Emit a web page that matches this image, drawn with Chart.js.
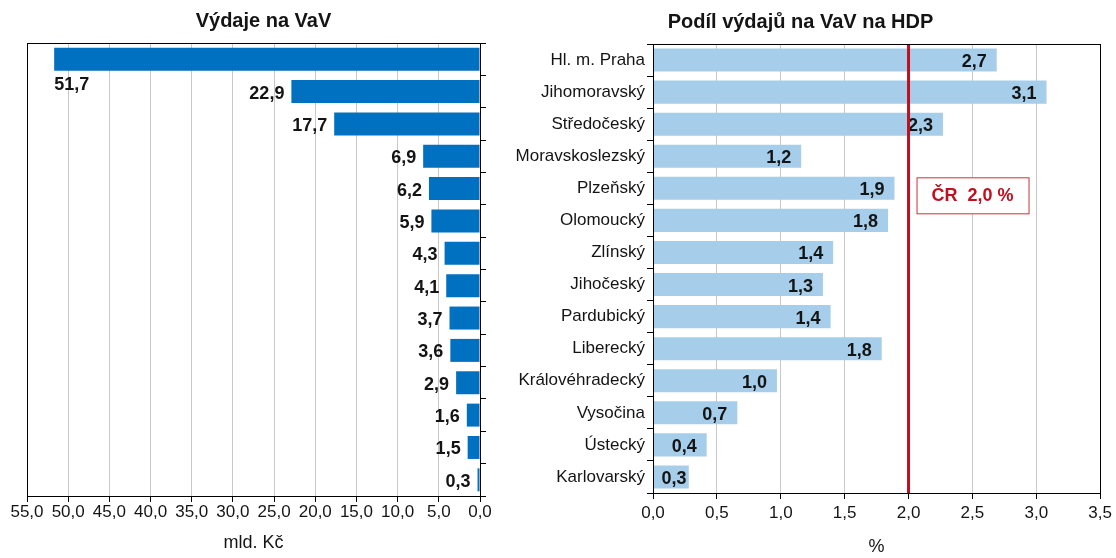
<!DOCTYPE html>
<html>
<head>
<meta charset="utf-8">
<script src="https://cdn.jsdelivr.net/npm/chart.js@4/dist/chart.umd.min.js"></script>
<style>
  body { margin: 0; background: #fff; }
  #wrap { position: relative; width: 1116px; height: 558px; }
  #left { position: absolute; left: 0; top: 0; }
  #right { position: absolute; left: 500px; top: 0; }
</style>
</head>
<body>
<div id="wrap">
  <canvas id="left" width="500" height="558"></canvas>
  <canvas id="right" width="616" height="558"></canvas>
</div>
<script>
// regions, same order in both panels
var regions = ["Hl. m. Praha", "Jihomoravský", "Středočeský", "Moravskoslezský", "Plzeňský",
  "Olomoucký", "Zlínský", "Jihočeský", "Pardubický", "Liberecký", "Královéhradecký",
  "Vysočina", "Ústecký", "Karlovarský"];
// výdaje na VaV, mld. Kč
var spending = [51.7, 22.9, 17.7, 6.9, 6.2, 5.9, 4.3, 4.1, 3.7, 3.6, 2.9, 1.6, 1.5, 0.3];
// podíl na HDP, %
var share = [2.69, 3.08, 2.27, 1.16, 1.89, 1.84, 1.41, 1.33, 1.39, 1.79, 0.97, 0.66, 0.42, 0.28];
var crShare = 2.0;
var crLabel = "ČR  2,0 %";

var FONT = "'Liberation Sans', Arial, sans-serif";
var INK = "#141414";
function fmt(v) { return v.toFixed(1).replace(".", ","); }

// frame round the plot area
var frame = {
  id: "frame",
  afterDraw: function (chart) {
    var a = chart.chartArea, ctx = chart.ctx;
    ctx.save();
    ctx.strokeStyle = "#000";
    ctx.lineWidth = 1;
    ctx.strokeRect(Math.round(a.left) + 0.5, Math.round(a.top) + 0.5,
      Math.round(a.right - a.left), Math.round(a.bottom - a.top));
    ctx.restore();
  }
};

// value labels for the left panel
var leftLabels = {
  id: "leftLabels",
  afterDatasetsDraw: function (chart) {
    var ctx = chart.ctx;
    var meta = chart.getDatasetMeta(0);
    ctx.save();
    ctx.font = "bold 18px " + FONT;
    ctx.fillStyle = INK;
    meta.data.forEach(function (bar, i) {
      var txt = fmt(spending[i]);
      if (i === 0) {
        ctx.textAlign = "left";
        ctx.textBaseline = "top";
        ctx.fillText(txt, bar.x, bar.y + bar.height / 2 + 5);
      } else {
        ctx.textAlign = "right";
        ctx.textBaseline = "middle";
        ctx.fillText(txt, bar.x - 7, bar.y + 2);
      }
    });
    ctx.restore();
  }
};

// value labels + ČR line for the right panel
var rightExtras = {
  id: "rightExtras",
  afterDatasetsDraw: function (chart) {
    var ctx = chart.ctx;
    var meta = chart.getDatasetMeta(0);
    var xs = chart.scales.x, ys = chart.scales.y, a = chart.chartArea;
    ctx.save();
    ctx.font = "bold 18px " + FONT;
    ctx.fillStyle = INK;
    ctx.textAlign = "left";
    ctx.textBaseline = "middle";
    meta.data.forEach(function (bar, i) {
      var txt = fmt(share[i]);
      var w = ctx.measureText(txt).width;
      var x = Math.max(bar.x - 10 - w, bar.base + 8);
      ctx.fillText(txt, x, bar.y + 2);
    });
    // ČR line
    var lx = xs.getPixelForValue(crShare);
    ctx.strokeStyle = "#c00f1e";
    ctx.lineWidth = 3;
    ctx.beginPath();
    ctx.moveTo(lx, a.top);
    ctx.lineTo(lx, a.bottom);
    ctx.stroke();
    // ČR box
    var by = ys.getPixelForValue(4) - 11;
    var bx = lx + 8;
    ctx.fillStyle = "#fff";
    ctx.fillRect(bx, by, 112, 36);
    ctx.strokeStyle = "#c8323c";
    ctx.lineWidth = 1;
    ctx.strokeRect(bx + 0.5, by + 0.5, 112, 36);
    ctx.fillStyle = "#c00f1e";
    ctx.font = "bold 18px " + FONT;
    ctx.textAlign = "center";
    ctx.fillText(crLabel, bx + 56, by + 19);
    ctx.restore();
  }
};

new Chart(document.getElementById("left"), {
  type: "bar",
  data: {
    labels: regions,
    datasets: [{
      data: spending,
      backgroundColor: "#0070c0",
      categoryPercentage: 1,
      barPercentage: 0.71
    }]
  },
  options: {
    indexAxis: "y",
    responsive: false,
    animation: false,
    layout: { padding: { left: 27, right: 0, top: 0, bottom: 4 } },
    plugins: {
      legend: { display: false },
      tooltip: { enabled: false },
      title: {
        display: true, text: "Výdaje na VaV", color: INK,
        font: { family: FONT, size: 20, weight: "bold" },
        padding: { top: 9, bottom: 10 }
      }
    },
    scales: {
      x: {
        reverse: true, min: 0, max: 55,
        ticks: { stepSize: 5, color: INK, padding: 0, font: { family: FONT, size: 17 }, callback: function (v) { return fmt(v); }, maxRotation: 0 },
        grid: { color: "#c8c8c8", tickColor: "#000", tickLength: 6 },
        border: { color: "#000" },
        title: { display: true, text: "mld. Kč", color: INK, font: { family: FONT, size: 18 }, padding: { top: 10, bottom: 0 } }
      },
      y: {
        position: "right",
        ticks: { display: false },
        grid: { drawOnChartArea: false, tickColor: "#000", tickLength: 6 },
        border: { color: "#000" },
        afterFit: function (s) { s.width = 20; }
      }
    }
  },
  plugins: [frame, leftLabels]
});

new Chart(document.getElementById("right"), {
  type: "bar",
  data: {
    labels: regions,
    datasets: [{
      data: share,
      backgroundColor: "#a6cde9",
      categoryPercentage: 1,
      barPercentage: 0.72
    }]
  },
  options: {
    indexAxis: "y",
    responsive: false,
    animation: false,
    layout: { padding: { left: 0, right: 15, top: 0, bottom: 0 } },
    plugins: {
      legend: { display: false },
      tooltip: { enabled: false },
      title: {
        display: true, text: "Podíl výdajů na VaV na HDP", color: INK,
        font: { family: FONT, size: 20, weight: "bold" },
        padding: { top: 10, bottom: 10 }
      }
    },
    scales: {
      x: {
        min: 0, max: 3.5,
        ticks: { stepSize: 0.5, color: INK, padding: 4, font: { family: FONT, size: 17 }, callback: function (v) { return fmt(v); }, maxRotation: 0 },
        grid: { color: "#c8c8c8", tickColor: "#000", tickLength: 6 },
        border: { color: "#000" },
        title: { display: true, text: "%", color: INK, font: { family: FONT, size: 18 }, padding: { top: 9, bottom: 0 } }
      },
      y: {
        ticks: { color: INK, font: { family: FONT, size: 17 }, padding: 2 },
        grid: { drawOnChartArea: false, tickColor: "#000", tickLength: 6 },
        border: { color: "#000" },
        afterFit: function (s) { s.width = 153; }
      }
    }
  },
  plugins: [frame, rightExtras]
});
</script>
</body>
</html>
